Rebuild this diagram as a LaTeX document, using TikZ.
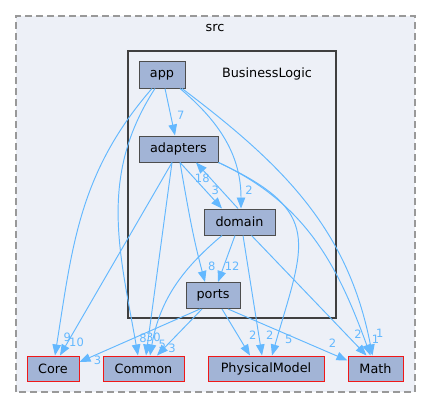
\documentclass[tikz,border=0pt]{standalone}
\usepackage{fontspec}
\setmainfont{DejaVu Sans}
\usetikzlibrary{arrows.meta}

\definecolor{linkblue}{HTML}{63B8FF}
\definecolor{dirblue}{HTML}{A2B4D6}
\definecolor{clusterbg}{HTML}{EDF0F7}
\definecolor{dirline}{HTML}{4D4D4D}
\definecolor{extline}{HTML}{F01818}

\begin{document}
\begin{tikzpicture}[x=1pt,y=1pt,font=\fontsize{12.8}{15}\selectfont]

      \useasboundingbox (0,0) rectangle (431,408);

      \draw[fill=clusterbg,draw=black!40,line width=1.3pt,dash pattern=on 7pt off 4pt] (16,16) rectangle (415,392);
      \node (src) at (215,380) {src};
      \draw[fill=clusterbg,draw=black!75,line width=2.2pt] (128,90) rectangle (336,357);
      \node (businesslogic) at (267,334) {BusinessLogic};

      \begin{scope}[every node/.style={draw=dirline,fill=dirblue,line width=1pt,minimum height=26,inner sep=0}]
        \node[minimum width=46] (app)      at (162,333)   {app};
        \node[minimum width=79] (adapters) at (178.5,259) {adapters};
        \node[minimum width=71] (domain)   at (239.5,186) {domain};
        \node[minimum width=54] (ports)    at (213,112.5) {ports};
      \end{scope}

      \begin{scope}[every node/.style={draw=extline,fill=dirblue,line width=1pt,minimum height=25,inner sep=0}]
        \node[minimum width=52]  (core)          at (53,39.5)    {Core};
        \node[minimum width=81]  (common)        at (143.5,39.5) {Common};
        \node[minimum width=116] (physicalmodel) at (266,39.5)   {PhysicalModel};
        \node[minimum width=55]  (math)          at (375.5,39.5) {Math};
      \end{scope}

      \begin{scope}[every node/.style={text=linkblue,font=\fontsize{11.5}{13}\selectfont,inner sep=0}]

        \begin{scope}[every edge/.style={draw=linkblue,line width=.95pt,-{Triangle[length=11pt,width=8.5pt]}}]
          \path ([xshift=3]app.south)  edge node[pos=.58,xshift=10] {7} ([xshift=-3.5]adapters.north);
          \path ([xshift=18]app.south) edge[out=-40,in=90] node[pos=.88,xshift=9] {2} ([xshift=1.5]domain.north);
          \path ([xshift=-10]app.south) edge[out=229,in=81] node[pos=.945,xshift=9.5] {9} ([xshift=2]core.north);
          \path ([xshift=-7]app.south) edge[out=237,in=100] node[pos=.945,xshift=8] {8} ([xshift=-5.5]common.north);
          \path ([xshift=20]app.south) edge[out=-37,in=101] node[pos=.94,xshift=12] {1} ([xshift=-3]math.north);
          \path ([xshift=1.5]adapters.south) edge node[pos=.6,xshift=10] {3} ([xshift=-17.5]domain.north);
          \path ([xshift=-1.5]domain.north) edge node[pos=.66,xshift=-8] {18} ([xshift=17.5]adapters.south);
          \path ([xshift=1.5]adapters.south) edge[out=-80,in=105] node[pos=.88,xshift=11] {8} ([xshift=-8]ports.north);
          \path ([xshift=-4.5]domain.south) edge node[pos=.67,xshift=8.5] {12} ([xshift=5]ports.north);
          \path ([xshift=-6.5]adapters.south) edge node[pos=.933,xshift=9] {10} ([xshift=7]core.north);
          \path ([xshift=-6.5]adapters.south) edge node[pos=.907,xshift=5] {30} ([xshift=2.5]common.north);
          \path (adapters.south east) edge[out=-25,in=74,looseness=1.5] node[pos=.95,xshift=12] {5} ([xshift=6]physicalmodel.north);
          \path (adapters.south east) edge[out=-25,in=110] node[pos=.94,xshift=11] {1} ([xshift=-5]math.north);
          \path ([xshift=-17.5]domain.south) edge[out=220,in=80] node[pos=.93,xshift=10] {5} ([xshift=6.5]common.north);
          \path ([xshift=3.5]domain.south) edge node[pos=.835,xshift=11] {2} ([xshift=-4]physicalmodel.north);
          \path ([xshift=12]domain.south) edge node[pos=.826,xshift=11.5] {2} ([xshift=-9]math.north);
          \path ([xshift=-13]ports.south) edge node[pos=.85,yshift=-6] {3} ([yshift=6.5]core.east);
          \path ([xshift=-11]ports.south) edge node[pos=.854,xshift=8.5] {3} ([xshift=13.5]common.north);
          \path ([xshift=9]ports.south) edge node[pos=.56,xshift=15] {2} ([xshift=-16]physicalmodel.north);
          \path ([xshift=15]ports.south) edge node[pos=.875,yshift=11] {2} ([yshift=8]math.west);
        \end{scope}
      \end{scope}

    \end{tikzpicture}
\end{document}
